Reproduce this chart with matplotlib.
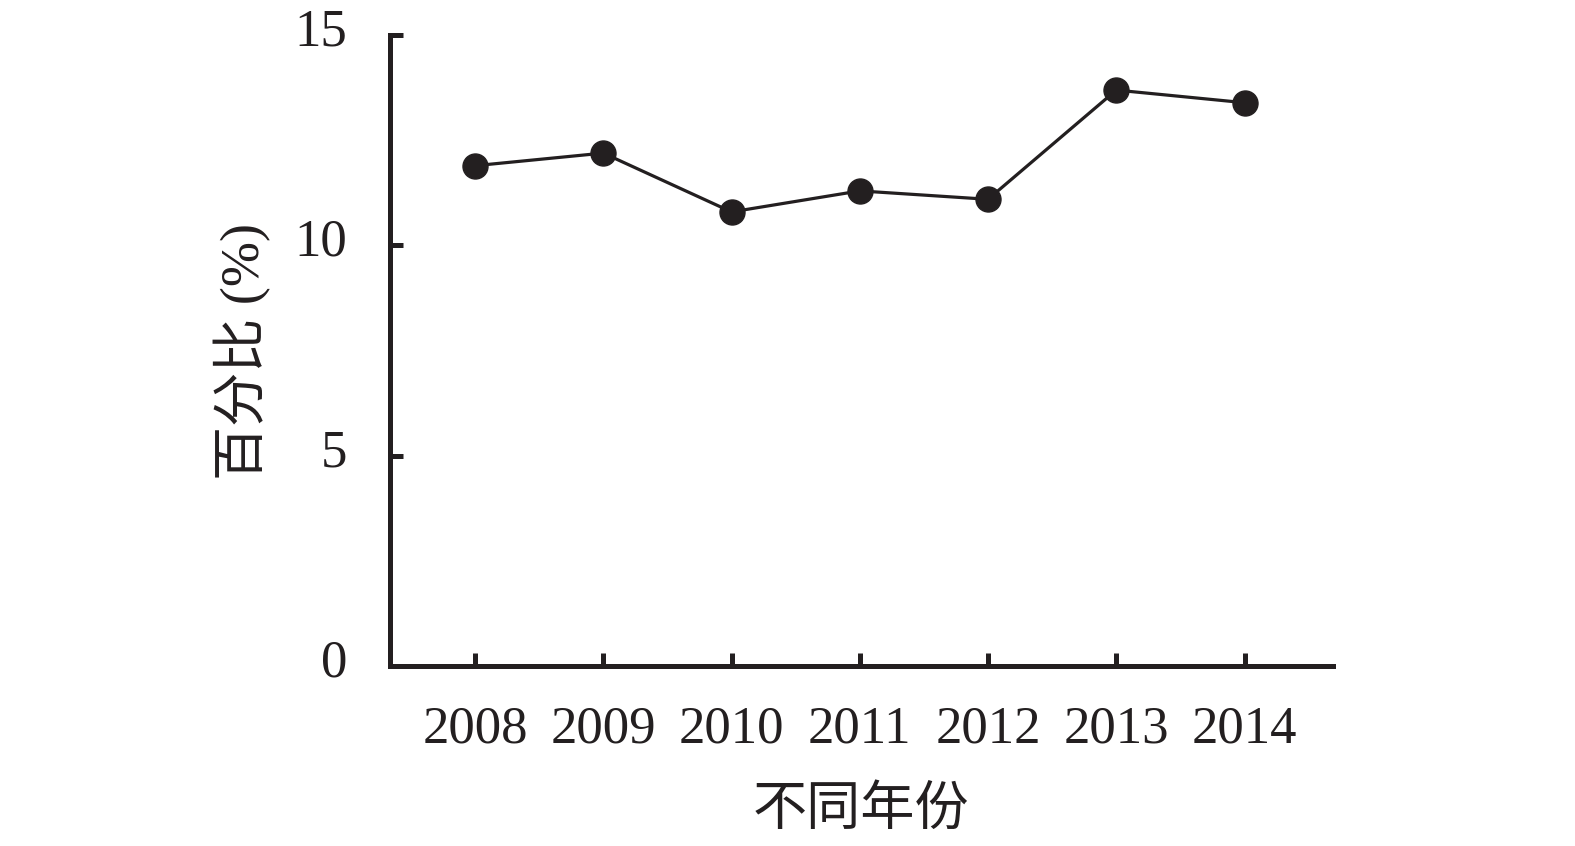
import matplotlib
matplotlib.use("Agg")
import matplotlib.pyplot as plt
import matplotlib.transforms as mtransforms

years = ["2008", "2009", "2010", "2011", "2012", "2013", "2014"]
values = [11.9, 12.2, 10.8, 11.3, 11.1, 13.7, 13.4]
yticks = [0, 5, 10, 15]
xlabel = "不同年份"
ylabel = "百分比 (%)"

INK = "#231f20"
SERIF = ["Liberation Serif", "Noto Sans CJK SC"]
MIXED = ["Liberation Serif", "Noto Sans CJK SC"]

fig = plt.figure(figsize=(15.75, 8.46), dpi=100)
W, H = 1575, 846
left, right, top, bottom = 390, 1333, 35.5, 665.5
ax = fig.add_axes([left / W, 1 - bottom / H, (right - left) / W, (bottom - top) / H])

x = list(range(len(years)))
ax.plot(x, values, color=INK, lw=2.3, marker="o", markersize=18,
        markerfacecolor=INK, markeredgecolor=INK, clip_on=False, zorder=3)

ax.set_xlim(-0.663, 6.69)
ax.set_ylim(0, 15)
ax.set_xticks(x)
ax.set_xticklabels(years)
ax.set_yticks(yticks)
ax.set_yticklabels([str(t) for t in yticks])

for s in ["top", "right"]:
    ax.spines[s].set_visible(False)
for s in ["left", "bottom"]:
    ax.spines[s].set_linewidth(3.6)
    ax.spines[s].set_color(INK)
    ax.spines[s].set_capstyle("projecting")

ax.tick_params(axis="both", direction="in", length=9.5, width=3.6, color=INK,
               labelcolor=INK, labelsize=38)
ax.tick_params(axis="y", pad=31)
ax.tick_params(axis="x", pad=29)
for lab in ax.get_xticklabels() + ax.get_yticklabels():
    lab.set_fontfamily(SERIF)

shift = mtransforms.ScaledTranslation(0, 8 / 100, fig.dpi_scale_trans)
for lab in ax.get_yticklabels():
    lab.set_transform(lab.get_transform() + shift)

fig.text(861 / W, 1 - 812 / H, xlabel, ha="center", va="center",
         fontsize=39, color=INK, family=MIXED)
fig.text(243 / W, 1 - 351 / H, ylabel, ha="center", va="center", rotation=90,
         fontsize=39, color=INK, family=MIXED)

fig.savefig("out.png", dpi=100, facecolor="white")
